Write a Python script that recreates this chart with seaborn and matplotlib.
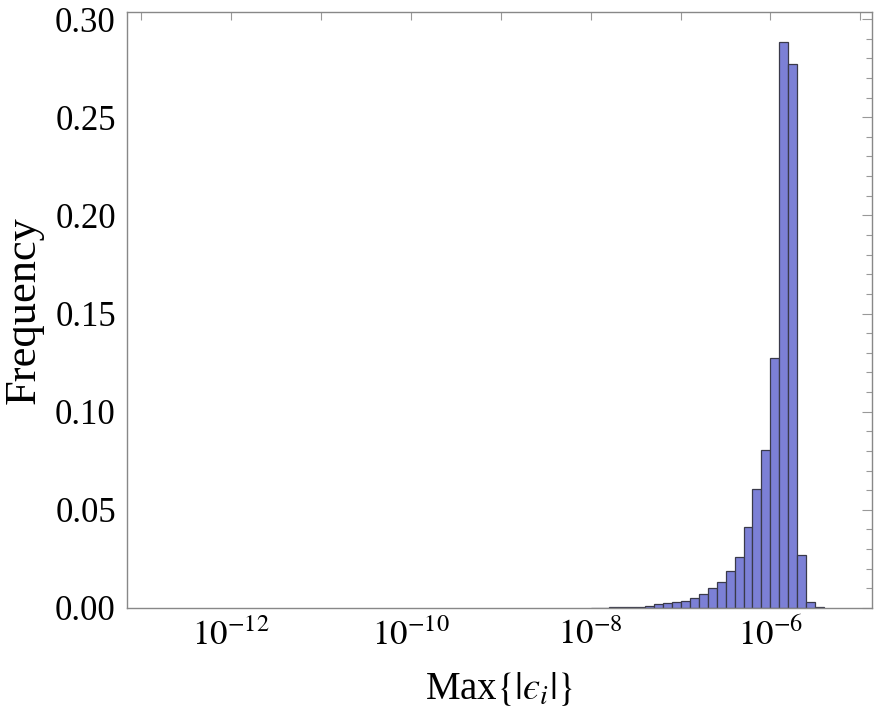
import numpy as np
import pandas as pd
import matplotlib
matplotlib.use('Agg')
import matplotlib.pyplot as plt
import seaborn as sns

# 直方圖資料 (bin 左邊界的 log10 值, 每個 bin 寬 0.1 decade)
bin_left_log = [-8.0, -7.9, -7.8, -7.7, -7.6, -7.5, -7.4, -7.3, -7.2, -7.1,
                -7.0, -6.9, -6.8, -6.7, -6.6, -6.5, -6.4, -6.3, -6.2, -6.1,
                -6.0, -5.9, -5.8, -5.7, -5.6, -5.5]
frequency = [0.0001, 0.0002, 0.0003, 0.0004, 0.0005, 0.0007, 0.0012, 0.0019, 0.0024, 0.0029,
             0.0036, 0.0051, 0.0070, 0.0100, 0.0133, 0.0186, 0.0262, 0.0410, 0.0605, 0.0803,
             0.1275, 0.2885, 0.2770, 0.0268, 0.0028, 0.0004]
bin_width_log = 0.1

xtick_exps = [-13, -12, -11, -10, -9, -8, -7, -6, -5]
xtick_labels = ['' if e % 2 else r'$10^{%d}$' % e for e in xtick_exps]
ytick_vals = [0.00, 0.05, 0.10, 0.15, 0.20, 0.25, 0.30]

sns.set_style('white')
plt.rcParams['font.family'] = ['Liberation Serif', 'DejaVu Serif']
plt.rcParams['mathtext.fontset'] = 'stix'

left = np.array(bin_left_log)
edges = list(10 ** np.append(left, left[-1] + bin_width_log))
centers = 10 ** (left + bin_width_log / 2)
df = pd.DataFrame({'x': centers, 'freq': frequency})

fig = plt.figure(figsize=(8.75, 7.15), dpi=100)
ax = fig.add_axes([0.1451, 0.1497, 0.8515, 0.8335])

sns.histplot(data=df, x='x', weights='freq', bins=edges, stat='count',
             color='#7c80d6', alpha=1.0, edgecolor='#3a3a4a', linewidth=0.9, ax=ax)

ax.set_xscale('log')
ax.set_xlim(10 ** -13.16, 10 ** -4.87)
ax.set_ylim(0, 0.3036)

ax.set_xticks([10.0 ** e for e in xtick_exps])
ax.set_xticklabels(xtick_labels)
ax.xaxis.set_minor_locator(matplotlib.ticker.NullLocator())
ax.set_yticks(ytick_vals)
ax.set_yticklabels(['%.2f' % v for v in ytick_vals])
ax.set_yticks(np.arange(0, 0.301, 0.01), minor=True)

ax.tick_params(axis='both', which='both', direction='in', colors='#999999',
               labelcolor='black', top=True, right=True, width=0.8)
ax.tick_params(axis='x', which='major', length=6, labelsize=25, pad=8)
ax.tick_params(axis='y', which='major', length=7, labelsize=25, pad=8)
ax.tick_params(axis='y', which='minor', length=4)

for s in ax.spines.values():
    s.set_color('#888888')
    s.set_linewidth(1.0)

ax.set_xlabel('Max$\\{|\\mathit{\u03f5}_i|\\}$', fontsize=28, labelpad=12, color='black')
ax.set_ylabel('Frequency', fontsize=32, labelpad=8, color='black')

fig.savefig('out.png', dpi=100)
